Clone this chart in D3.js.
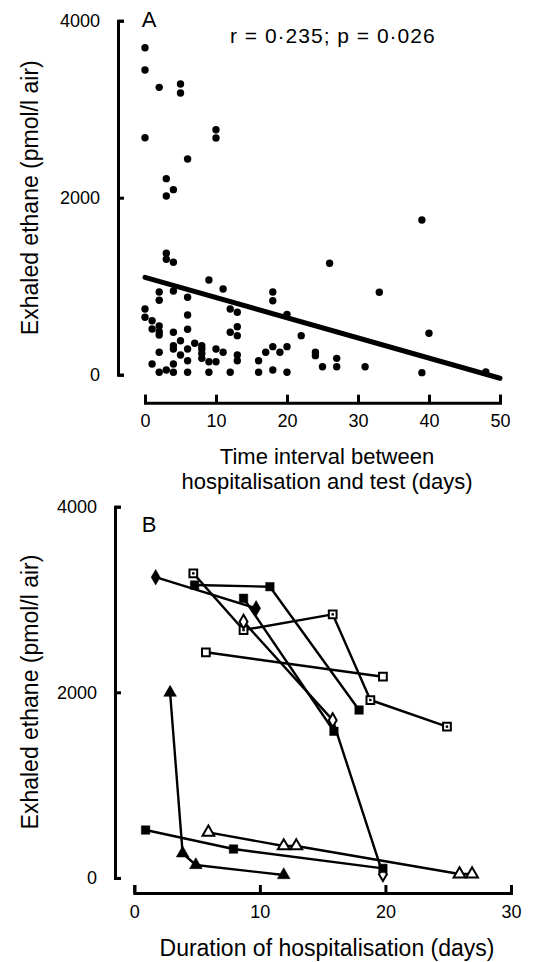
<!DOCTYPE html>
<html><head><meta charset="utf-8">
<script src="https://cdn.jsdelivr.net/npm/d3@7"></script>
<style>
body{margin:0;background:#fff}
svg{display:block}
text{font-family:"Liberation Sans",Arial,Helvetica,sans-serif;fill:#000}
</style>
</head><body>
<svg id="c" width="533" height="962"></svg>
<script>
// ---------- Panel A data ----------
const daysA = [0,0,0,0,0, 1,1,1, 2,2,2,2,2,2,2,2, 3,3,3,3,3, 4,4,4,4,4,4,4,4, 5,5,5,5, 6,6,6,6,6,6,6, 7, 8,8,8,8, 9,9,9, 10,10,10,10, 11,11, 12,12,12, 13,13,13,13,13, 16,16, 17, 18,18,18,18, 19, 20,20,20, 22, 24,24, 25, 26, 27,27, 31, 33, 39,39, 40, 48];
const ethaneA = [3695,3443,2678,742,649, 610,516,121, 3247,935,841,550,486,449,253,27, 2215,2019,1372,1304,53, 2091,1270,946,479,328,290,121,27, 3285,3183,384,223, 2437,875,675,513,290,158,27, 355, 328,290,240,185, 1070,147,27, 2768,2674,290,147, 968,253, 742,479,27, 705,542,441,223,158, 158,27, 253, 935,836,317,53, 253, 682,317,27, 441, 253,215, 90, 1259, 185,90, 90, 931, 1748,23, 468, 30];
const regDays = [0, 50];
const regEthane = [1100, -40];
const xTicksA = [0,10,20,30,40,50];
const yTicks = [0,2000,4000];
const statText = "r = 0\u00b7235; p = 0\u00b7026";

// ---------- Panel B data ----------
const fDiamondDays = [1.7, 9.7],            fDiamondVals = [3240, 2905];
const fSquare1Days = [4.8, 10.8, 17.9],     fSquare1Vals = [3156, 3138, 1809];
const fSquare2Days = [8.7, 15.9],           fSquare2Vals = [3013, 1580];
const dotSquareDays = [4.7, 8.7, 15.8, 18.8, 24.9], dotSquareVals = [3282, 2671, 2840, 1917, 1630];
const oSquareDays = [5.7, 19.8],            oSquareVals = [2431, 2168];
const oDiamondDays = [8.7, 15.8, 19.8],     oDiamondVals = [2761, 1700, 40];
const fTriangleDays = [2.85, 3.85, 4.9, 11.9], fTriangleVals = [1996, 265, 139, 31];
const fSquare3Days = [0.9, 7.9, 19.8],      fSquare3Vals = [516, 311, 103];
const oTriangleDays = [5.9, 11.9, 12.9, 25.9, 26.9], oTriangleVals = [491, 344, 344, 42, 42];
const xTicksB = [0,10,20,30];

const seriesB = [
  {d: fDiamondDays, v: fDiamondVals, m: "fDiamond"},
  {d: fSquare1Days, v: fSquare1Vals, m: "fSquare"},
  {d: fSquare2Days, v: fSquare2Vals, m: "fSquare"},
  {d: dotSquareDays, v: dotSquareVals, m: "dotSquare"},
  {d: oSquareDays, v: oSquareVals, m: "oSquare"},
  {d: oDiamondDays, v: oDiamondVals, m: "oDiamond"},
  {d: fTriangleDays, v: fTriangleVals, m: "fTriangle"},
  {d: fSquare3Days, v: fSquare3Vals, m: "fSquare"},
  {d: oTriangleDays, v: oTriangleVals, m: "oTriangle"}
];

const svg = d3.select("#c");
const fmt = d3.format("d");

function styleAxis(g, fs) {
  g.select(".domain").attr("stroke", "#000").attr("stroke-width", 3).attr("fill", "none");
  g.selectAll(".tick line").attr("stroke", "#000").attr("stroke-width", 3);
  g.selectAll(".tick text").attr("font-size", fs).attr("fill", "#000")
    .attr("font-family", "'Liberation Sans', Arial, sans-serif");
}

// ---------- Panel A ----------
const xA = d3.scaleLinear().domain([0, 50]).range([145, 500]);
const yA = d3.scaleLinear().domain([0, 4000]).range([374.7, 20.7]);

const gyA = svg.append("g").attr("transform", "translate(118,0)")
  .call(d3.axisLeft(yA).tickValues(yTicks).tickFormat(fmt).tickSizeInner(-6).tickSizeOuter(-6).tickPadding(18));
styleAxis(gyA, 18);
const gxA = svg.append("g").attr("transform", "translate(0,402.7)")
  .call(d3.axisBottom(xA).tickValues(xTicksA).tickFormat(fmt).tickSizeInner(-8).tickSizeOuter(-8).tickPadding(12));
styleAxis(gxA, 18);

svg.append("g").selectAll("circle").data(daysA.map((d, i) => [d, ethaneA[i]])).join("circle")
  .attr("cx", d => xA(d[0])).attr("cy", d => yA(d[1])).attr("r", 3.7).attr("fill", "#000");

svg.append("path").datum(regDays.map((d, i) => [d, regEthane[i]]))
  .attr("d", d3.line().x(d => xA(d[0])).y(d => yA(d[1])))
  .attr("stroke", "#000").attr("stroke-width", 5).attr("stroke-linecap", "round").attr("fill", "none");

svg.append("text").attr("x", 149).attr("y", 27).attr("text-anchor", "middle").attr("font-size", 22).text("A");
svg.append("text").attr("x", 230).attr("y", 43).attr("font-size", 21).attr("letter-spacing", 1).text(statText);

svg.append("text").attr("transform", "translate(38,197.7) rotate(-90)").attr("text-anchor", "middle")
  .attr("font-size", 23).text("Exhaled ethane (pmol/l air)");
svg.append("text").attr("x", 327).attr("y", 464).attr("text-anchor", "middle").attr("font-size", 22).text("Time interval between");
svg.append("text").attr("x", 327).attr("y", 489).attr("text-anchor", "middle").attr("font-size", 22).text("hospitalisation and test (days)");

// ---------- Panel B ----------
const xB = d3.scaleLinear().domain([0, 30]).range([134.3, 511]);
const yB = d3.scaleLinear().domain([0, 4000]).range([877.9, 506.7]);

const gyB = svg.append("g").attr("transform", "translate(115,0)")
  .call(d3.axisLeft(yB).tickValues(yTicks).tickFormat(fmt).tickSizeInner(-6).tickSizeOuter(-6).tickPadding(18));
styleAxis(gyB, 18);
const gxB = svg.append("g").attr("transform", "translate(0,893)")
  .call(d3.axisBottom(xB).tickValues(xTicksB).tickFormat(fmt).tickSizeInner(-8).tickSizeOuter(-8).tickPadding(12));
styleAxis(gxB, 18);

svg.append("text").attr("x", 149).attr("y", 532).attr("text-anchor", "middle").attr("font-size", 22).text("B");
svg.append("text").attr("transform", "translate(38,692) rotate(-90)").attr("text-anchor", "middle")
  .attr("font-size", 23).text("Exhaled ethane (pmol/l air)");
svg.append("text").attr("x", 327).attr("y", 956).attr("text-anchor", "middle").attr("font-size", 23).text("Duration of hospitalisation (days)");

const lineB = d3.line().x(p => xB(p[0])).y(p => yB(p[1]));
const gLines = svg.append("g");
const gMarks = svg.append("g");
seriesB.forEach(s => {
  const pts = s.d.map((d, i) => [d, s.v[i]]);
  gLines.append("path").datum(pts).attr("d", lineB)
    .attr("stroke", "#000").attr("stroke-width", 2.4).attr("fill", "none").attr("stroke-linejoin", "round");
});
const symMap = {
  fDiamond: [d3.symbolDiamond, 70, true],
  oDiamond: [d3.symbolDiamond, 55, false],
  fSquare: [d3.symbolSquare, 72, true],
  oSquare: [d3.symbolSquare, 60, false],
  dotSquare: [d3.symbolSquare, 60, false],
  fTriangle: [d3.symbolTriangle, 70, true],
  oTriangle: [d3.symbolTriangle, 60, false]
};
seriesB.forEach(s => {
  const [type, size, filled] = symMap[s.m];
  const pts = s.d.map((d, i) => [d, s.v[i]]);
  const g = gMarks.append("g");
  g.selectAll("path").data(pts).join("path")
    .attr("transform", p => `translate(${xB(p[0])},${yB(p[1])})`)
    .attr("d", d3.symbol().type(type).size(size))
    .attr("fill", filled ? "#000" : "#fff")
    .attr("stroke", "#000").attr("stroke-width", filled ? 0.5 : 2);
  if (s.m === "dotSquare") {
    g.selectAll("rect").data(pts).join("rect")
      .attr("x", p => xB(p[0]) - 1.2).attr("y", p => yB(p[1]) - 1.2)
      .attr("width", 2.4).attr("height", 2.4).attr("fill", "#000");
  }
});
</script>
</body></html>
